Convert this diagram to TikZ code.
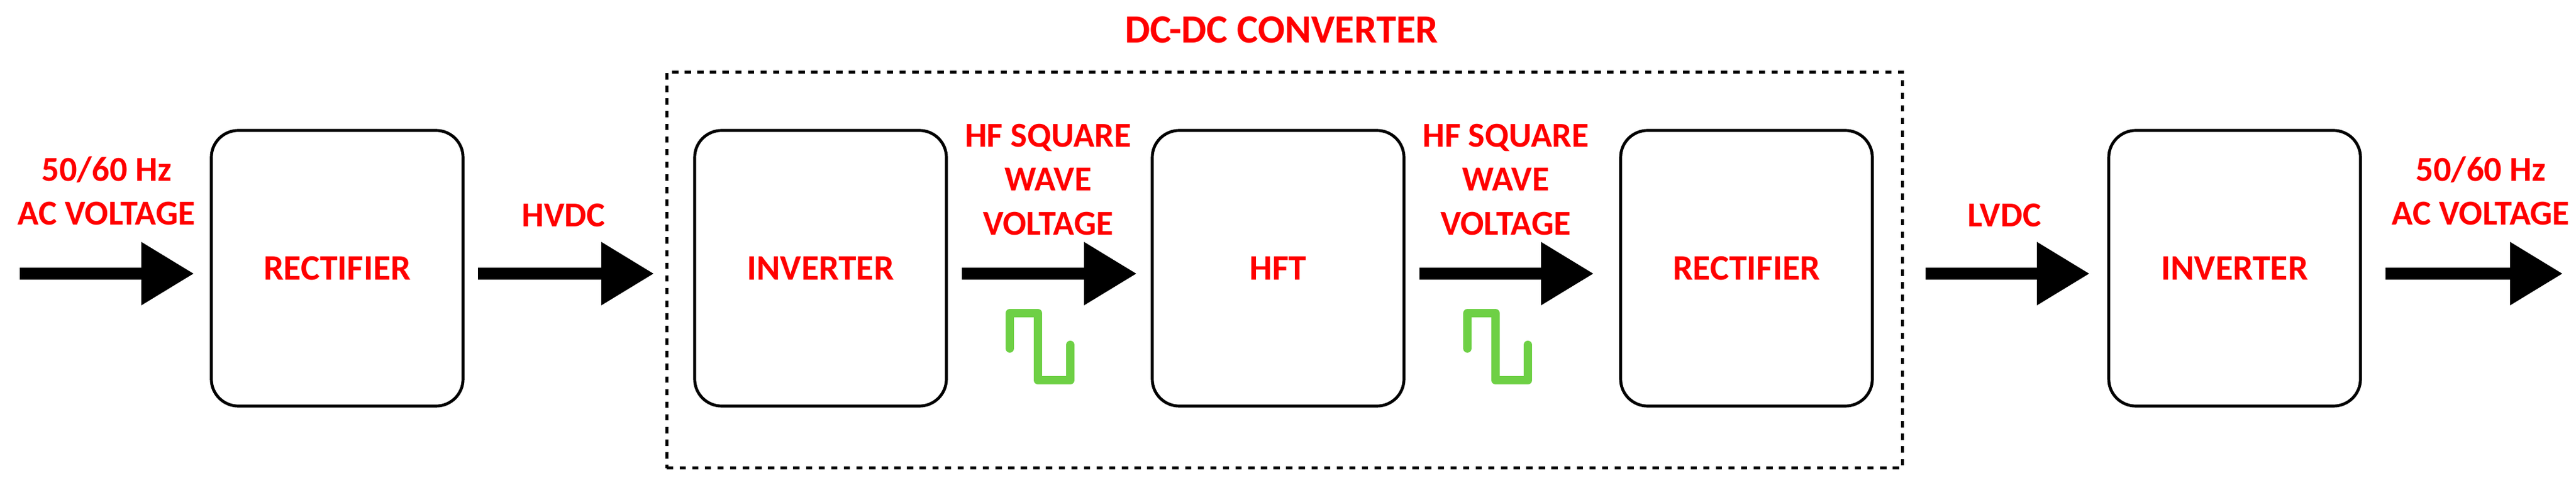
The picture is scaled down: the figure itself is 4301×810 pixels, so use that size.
\documentclass[tikz,border=0pt]{standalone}
\usepackage{fontspec}
\setmainfont{Carlito}
\usetikzlibrary{arrows.meta}
\begin{document}
\begin{tikzpicture}[x=0.01cm,y=-0.01cm,
  box/.style={draw,line width=1.4pt,rounded corners=0.45cm,minimum width=4.2cm,minimum height=4.6cm,font=\fontsize{17}{21}\selectfont\bfseries,text=red},
  lbl/.style={font=\fontsize{16.6}{20.8}\selectfont\bfseries,text=red,align=center},
  big/.style={line width=0.2cm,-{Triangle[length=0.88cm,width=1.0cm]}},
  wave/.style={color={rgb,255:red,110;green,208;blue,69},line width=0.14cm,line cap=round,line join=round}]
\useasboundingbox (0,0) rectangle (4301,810);
\node[draw,dashed,line width=1.4pt,minimum width=20.62cm,minimum height=6.61cm] (dc) at (2145,451) {};
\node[lbl,font=\fontsize{19}{22}\selectfont\bfseries] (title) at (2140,50) {DC-DC CONVERTER};
\node[box] (r1) at (563,448) {RECTIFIER};
\node[box] (i1) at (1370,448) {INVERTER};
\node[box] (hft) at (2134,448) {HFT};
\node[box] (r2) at (2916,448) {RECTIFIER};
\node[box] (i2) at (3731,448) {INVERTER};
\foreach \n/\s/\e in {1/33/324,2/798/1092,3/1606/1898,4/2370/2661,5/3215/3489,6/3983/4279}{
  \coordinate (s\n) at (\s,457); \coordinate (e\n) at (\e,457);}
\foreach \n in {1,...,6}{\draw[big] (s\n) -- (e\n);}
\node[lbl] (l1) at (178,319) {50/60 Hz\\AC VOLTAGE};
\node[lbl] (l2) at (941,360) {HVDC};
\node[lbl] (l3) at (1750,300) {HF SQUARE\\WAVE\\VOLTAGE};
\node[lbl] (l4) at (2514,300) {HF SQUARE\\WAVE\\VOLTAGE};
\node[lbl] (l5) at (3347,360) {LVDC};
\node[lbl] (l6) at (4142,319) {50/60 Hz\\AC VOLTAGE};
\foreach \dx in {0,764}{
\draw[wave] (1686+\dx,582) -- (1686+\dx,523) -- (1733+\dx,523) -- (1733+\dx,635) -- (1787+\dx,635) -- (1787+\dx,576);}
\end{tikzpicture}
\end{document}
